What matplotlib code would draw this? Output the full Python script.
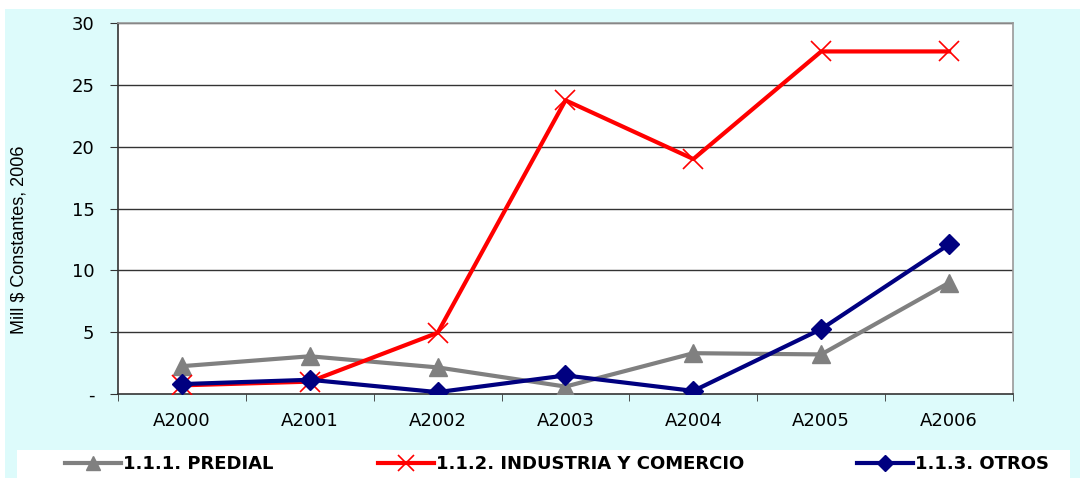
import numpy as np
import matplotlib.pyplot as plt
from matplotlib.patches import Rectangle

plt.rcParams['font.family'] = ['DejaVu Sans']

# Data
years = ["A2000", "A2001", "A2002", "A2003", "A2004", "A2005", "A2006"]
predial = [2.25, 3.05, 2.15, 0.6, 3.3, 3.2, 9.0]
industria = [0.7, 1.0, 4.95, 23.75, 19.0, 27.7, 27.7]
otros = [0.8, 1.15, 0.15, 1.5, 0.25, 5.25, 12.1]

W, H = 1084, 480
fig = plt.figure(figsize=(W / 100, H / 100), dpi=100)
fig.patch.set_facecolor("white")

# cyan background panel
fig.patches.append(Rectangle((5 / W, 1 - 478 / H), 1075 / W, 469 / H,
                             transform=fig.transFigure, facecolor="#ddfbfb",
                             edgecolor="none", zorder=-2))
# white legend strip
fig.patches.append(Rectangle((17 / W, 1 - 479 / H), 1053 / W, 29 / H,
                             transform=fig.transFigure, facecolor="white",
                             edgecolor="none", zorder=-1))

ax = fig.add_axes([118 / W, 1 - 394 / H, (1013 - 118) / W, (394 - 23) / H])
ax.set_zorder(2)
ax.set_facecolor("white")

x = np.arange(len(years))
l1, = ax.plot(x, predial, color="#808080", lw=3, marker="^", ms=13, zorder=3)
l2, = ax.plot(x, industria, color="#ff0000", lw=3, marker="x", ms=14, mew=1.2,
              zorder=4)
l3, = ax.plot(x, otros, color="#000080", lw=3, marker="D", ms=10.5, zorder=5)

ax.set_xlim(-0.5, len(years) - 0.5)
ax.set_ylim(0, 30)
ax.set_yticks(range(0, 31, 5))
ax.set_yticklabels(["-"] + [str(v) for v in range(5, 31, 5)], fontsize=13)
for v in range(5, 31, 5):
    ax.axhline(v, color="#333333", lw=1, zorder=1)

ax.set_xticks(x)
ax.set_xticklabels(years, fontsize=13)
ax.set_xticks(np.arange(-0.5, len(years)), minor=True)
ax.tick_params(axis="x", which="major", length=0, pad=13)
ax.tick_params(axis="x", which="minor", length=5, color="#333333")
ax.tick_params(axis="y", length=6, color="#333333", pad=11)

ax.spines["left"].set_color("#333333")
ax.spines["bottom"].set_color("#333333")
ax.spines["top"].set_color("#999999")
ax.spines["right"].set_color("#999999")
for s in ax.spines.values():
    s.set_linewidth(1.2)

fig.text(19 / W, 1 - 240 / H, "Mill $ Constantes, 2006", rotation=90,
         ha="center", va="center", fontsize=13, family="Liberation Sans")

# legend entries placed one by one
entries = [(l1, "1.1.1. PREDIAL", 65), (l2, "1.1.2. INDUSTRIA Y COMERCIO", 378),
           (l3, "1.1.3. OTROS", 857)]
for line, label, xpos in entries:
    lg = fig.legend([line], [label], loc="center left",
                    bbox_to_anchor=(xpos / W, 1 - 464 / H), frameon=False,
                    prop={"weight": "bold", "size": 13}, borderpad=0,
                    borderaxespad=0, handlelength=3.1, handletextpad=0.1,
                    markerscale=0.8)
    lg.set_zorder(5)

fig.savefig("out.png", dpi=100)
